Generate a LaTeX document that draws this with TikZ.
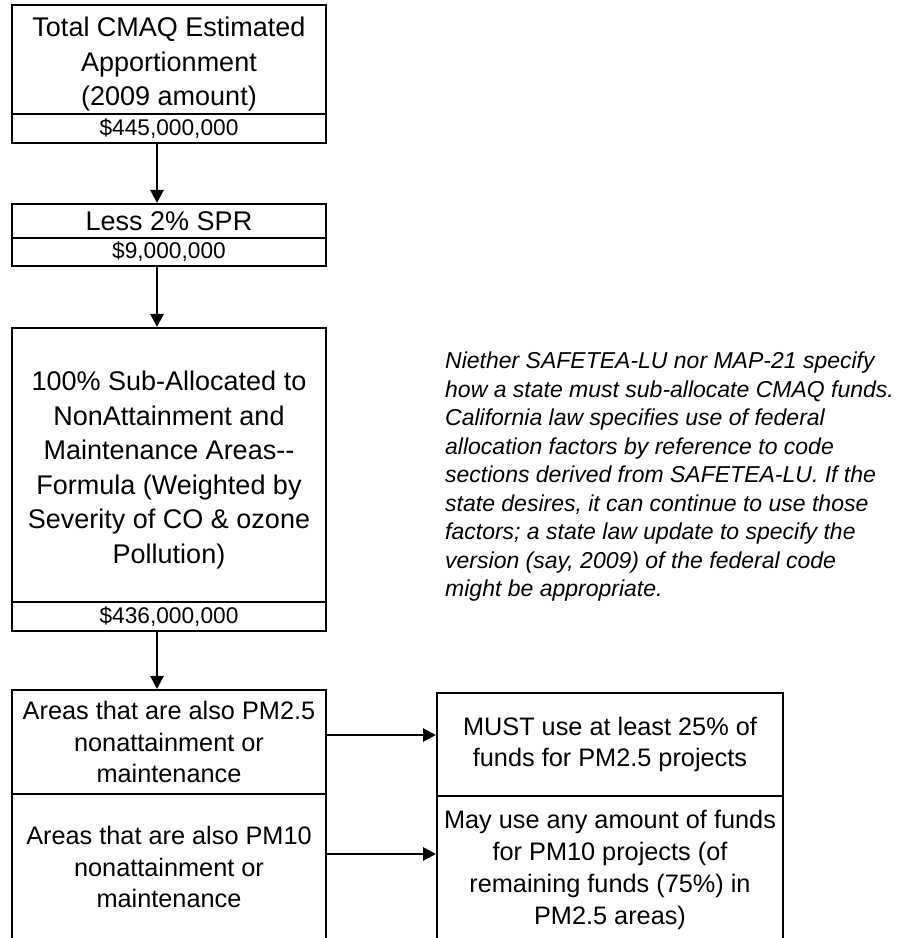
\documentclass[tikz,border=0pt]{standalone}
\usepackage{fontspec}
\setmainfont{Liberation Sans}
\usetikzlibrary{arrows.meta,positioning}

\begin{document}
\begin{tikzpicture}[x=1pt,y=1pt,
    box/.style={draw=black,line width=2pt,rectangle,inner sep=1pt,outer sep=0pt,align=center,minimum width=314pt},
    rbox/.style={box,minimum width=346pt},
    bigtext/.style={font=\fontsize{27}{34.5}\selectfont},
    amttext/.style={font=\fontsize{22.7}{27}\selectfont},
    lowtext/.style={font=\fontsize{25.3}{31.7}\selectfont},
    notetext/.style={font=\fontsize{23}{28.5}\selectfont\itshape},
    flow/.style={line width=2.8pt,-{Triangle[length=13pt,width=13pt]}}]
    \useasboundingbox (0,0) rectangle (901,938);
    \clip (0,0) rectangle (901,938);
    % main column
    \node[box,bigtext,minimum height=109pt] (total) at (169,878.5) {\rule{0pt}{29pt}Total CMAQ Estimated\\Apportionment\\(2009 amount)};
    \node[box,amttext,minimum height=29pt,anchor=north] (totalamt) at (total.south) {\$445,000,000};
    \node[box,bigtext,minimum height=34pt] (spr) at (169,717) {Less 2\% SPR};
    \node[box,amttext,minimum height=28pt,anchor=north] (spramt) at (spr.south) {\$9,000,000};
    \node[box,bigtext,minimum height=274pt] (suballoc) at (169,473) {\rule{0pt}{30pt}100\% Sub-Allocated to\\NonAttainment and\\Maintenance Areas-{}-\\Formula (Weighted by\\Severity of CO \& ozone\\Pollution)};
    \node[box,amttext,minimum height=29pt,anchor=north] (subamt) at (suballoc.south) {\$436,000,000};
    \node[box,lowtext,minimum height=104pt] (pmtwo) at (169,196) {Areas that are also PM2.5\\nonattainment or\\maintenance};
    \node[box,lowtext,minimum height=146pt,anchor=north] (pmten) at (pmtwo.south) {Areas that are also PM10\\nonattainment or\\maintenance};
    % right column
    \node[rbox,lowtext,minimum height=103pt] (must) at (610,193.5) {MUST use at least 25\% of\\funds for PM2.5 projects};
    \node[rbox,lowtext,minimum height=148pt,anchor=north] (may) at (must.south) {May use any amount of funds\\for PM10 projects (of\\remaining funds (75\%) in\\PM2.5 areas)};
    \node[notetext,anchor=north west,align=left,inner sep=0pt] (note) at (445,586) {Niether SAFETEA-LU nor MAP-21 specify\\how a state must sub-allocate CMAQ funds.\\California law specifies use of federal\\allocation factors by reference to code\\sections derived from SAFETEA-LU. If the\\state desires, it can continue to use those\\factors; a state law update to specify the\\version (say, 2009) of the federal code\\might be appropriate.};
    % arrows
    \draw[flow] ([xshift=-12pt]totalamt.south) -- ([xshift=-12pt,yshift=1pt]spr.north);
    \draw[flow] ([xshift=-12pt]spramt.south) -- ([xshift=-12pt,yshift=1pt]suballoc.north);
    \draw[flow] ([xshift=-12pt]subamt.south) -- ([xshift=-12pt,yshift=1pt]pmtwo.north);
    \draw[flow] ([yshift=7pt]pmtwo.east) -- ([yshift=7pt,xshift=-1pt]pmtwo.east -| must.west);
    \draw[flow] ([yshift=13pt]pmten.east) -- ([yshift=13pt,xshift=-1pt]pmten.east -| may.west);
\end{tikzpicture}
\end{document}
